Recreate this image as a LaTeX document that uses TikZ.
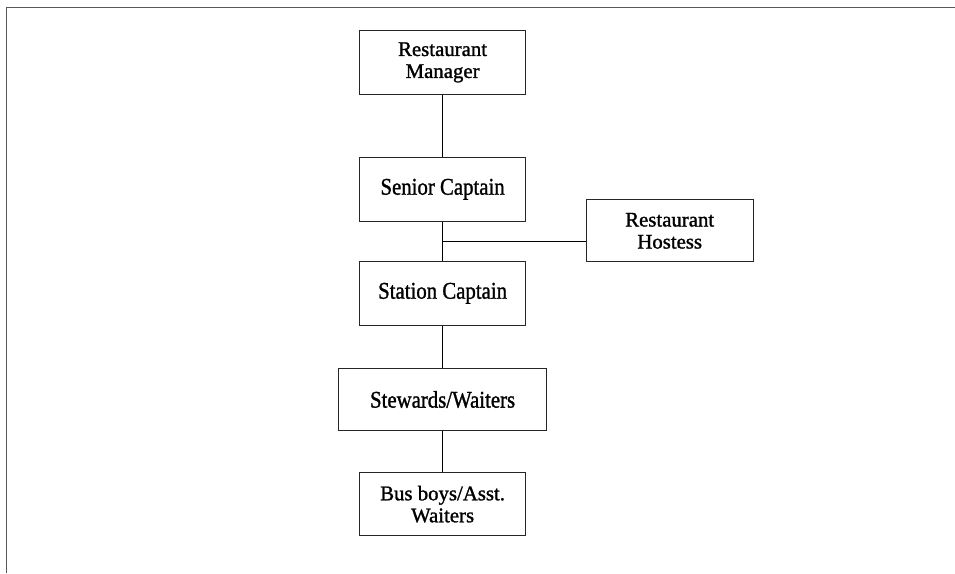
\documentclass[tikz,border=0pt]{standalone}
\usepackage{fontspec}
\setmainfont{Liberation Serif}
\newfontfamily\chartfont[FakeBold=1.3]{Liberation Serif}
\usetikzlibrary{calc}
\begin{document}
\begin{tikzpicture}[x=1pt, y=-1pt,
  orgbox/.style={draw=black!85, line width=1pt, rectangle, inner sep=0pt,
    minimum width=166pt, minimum height=63.5pt, align=center,
    font=\chartfont\fontsize{20.8}{22}\selectfont},
  link/.style={draw=black, line width=1pt},
  frameline/.style={draw=black!65, line width=1.4pt}]
  \useasboundingbox (0,0) rectangle (955,573);

  % partial frame around the chart
  \draw[frameline] (6.3,573) -- (6.3,7.5) -- (955,7.5);

  % positions of the chart
  \node[orgbox] (mgr) at (442.6,62.4) {Restaurant\\Manager};
  \node[orgbox] (sen) at (442.6,189.3) {\scalebox{1}[1.15]{Senior Captain}};
  \node[orgbox, minimum width=167.3pt, minimum height=61.7pt] (host) at (669.7,230.8) {Restaurant\\Hostess};
  \node[orgbox] (sta) at (442.6,293.3) {\scalebox{1}[1.15]{Station Captain}};
  \node[orgbox, minimum width=207.4pt, minimum height=62.4pt] (stw) at (442.6,399.5) {\scalebox{1}[1.15]{Stewards/Waiters}};
  \node[orgbox] (bus) at (442.6,504.2) {Bus boys/Asst.\\Waiters};

  % reporting lines
  \coordinate (jn) at ($(sen.south)!0.5!(sta.north)$);
  \draw[link] (mgr) -- (sen);
  \draw[link] (sen) -- (sta);
  \draw[link] (jn) -- (jn -| host.west);
  \draw[link] (sta) -- (stw);
  \draw[link] (stw) -- (bus);
\end{tikzpicture}
\end{document}
